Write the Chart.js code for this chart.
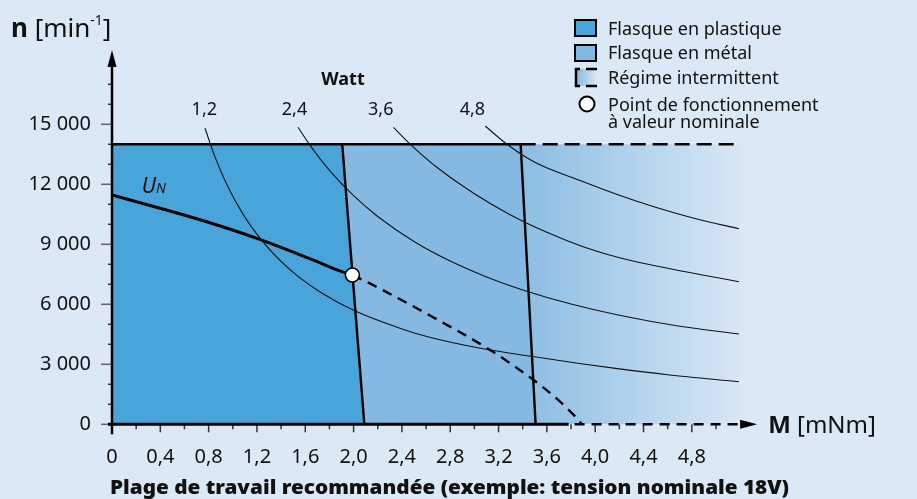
<!DOCTYPE html>
<html>
<head>
<meta charset="utf-8">
<script src="https://cdn.jsdelivr.net/npm/chart.js@4.4.1/dist/chart.umd.min.js"></script>
<style>
  html, body { margin: 0; padding: 0; background: #dbe8f5; }
  canvas { display: block; }
</style>
</head>
<body>
<canvas id="workChart" width="917" height="499"></canvas>
<script>
// values: [M in mNm, n in min-1]
let curve12 = [[0.77, 14800], [0.85, 13410], [0.95, 12000], [1.1, 10360], [1.3, 8770], [1.5, 7600],
  [1.75, 6515], [2.0, 5700], [2.4, 4770], [2.63, 4350], [3.05, 3800], [3.47, 3400], [3.87, 3040],
  [4.2, 2770], [4.6, 2480], [5.19, 2130]];
let curve24 = [[1.54, 14850], [1.65, 13860], [1.8, 12700], [2.0, 11430], [2.2, 10390], [2.5, 9140],
  [2.8, 8160], [3.1, 7370], [3.4, 6720], [3.8, 6015], [4.2, 5450], [4.7, 4900], [5.19, 4515]];
let curve36 = [[2.33, 14850], [2.47, 14000], [2.7, 12800], [3.0, 11530], [3.3, 10470], [3.6, 9600],
  [3.9, 8880], [4.2, 8330], [4.6, 7800], [4.9, 7450], [5.19, 7130]];
let curve48 = [[3.09, 14915], [3.27, 14000], [3.5, 13100], [3.87, 12200], [4.2, 11450], [4.5, 10850],
  [4.85, 10250], [5.19, 9780]];

let unSolid = [[0, 11465], [0.45, 10715], [0.81, 10080], [1.2, 9300], [1.7, 8130], [1.83, 7800], [1.99, 7465]];
let unDashed = [[1.99, 7465], [2.16, 6965], [2.65, 5380], [3.13, 3715], [3.49, 2215], [3.7, 1180],
  [3.85, 290], [3.89, 0]];
let nominalPoint = [[1.99, 7465]];

let plasticEdge = [[0, 14000], [1.906, 14000], [2.089, 0]];
let metalEdge = [[1.906, 14000], [3.383, 14000], [3.507, 0]];
let intermittentEdge = [[3.383, 14000], [5.2, 14000]];

let xTickLabels = ['0', '0,4', '0,8', '1,2', '1,6', '2,0', '2,4', '2,8', '3,2', '3,6', '4,0', '4,4', '4,8'];
let yTickLabels = ['0', '3 000', '6 000', '9 000', '12 000', '15 000'];
let wattLabels = ['1,2', '2,4', '3,6', '4,8'];
let legendLabels = ['Flasque en plastique', 'Flasque en métal', 'Régime intermittent', 'Point de fonctionnement', 'à valeur nominale'];

let bgColor = '#dbe8f5';
let plasticColor = '#49a4d9';
let metalColor = '#85b9e1';
let font = "'Noto Sans', sans-serif";

function pts(arr) {
    return arr.map(p => ({ x: p[0], y: p[1] }));
}

function curve(data) {
    return {
        data: pts(data),
        borderColor: '#111',
        borderWidth: 1.1,
        pointRadius: 0,
        fill: false,
        cubicInterpolationMode: 'monotone',
        order: 2
    };
}

let decor = {
    id: 'decor',
    beforeDraw(chart) {
        let c = chart.ctx;
        c.save();
        c.fillStyle = bgColor;
        c.fillRect(0, 0, chart.width, chart.height);
        c.restore();
    },
    afterDatasetsDraw(chart) {
        let c = chart.ctx;
        let xs = chart.scales.x;
        let ys = chart.scales.y;
        let x0 = xs.getPixelForValue(0);
        let y0 = ys.getPixelForValue(0);
        c.save();

        // ticks from the library's own tick lists
        c.lineWidth = 1.5;
        ys.ticks.forEach(t => {
            let y = ys.getPixelForValue(t.value);
            let major = t.label !== '';
            c.strokeStyle = major ? '#666' : '#333';
            c.beginPath();
            c.moveTo(x0 - (major ? 11 : 4), y);
            c.lineTo(x0, y);
            c.stroke();
        });
        xs.ticks.forEach(t => {
            let x = xs.getPixelForValue(t.value);
            let major = t.label !== '';
            c.strokeStyle = '#333';
            c.beginPath();
            c.moveTo(x, y0);
            c.lineTo(x, y0 + (major ? 8 : 5));
            c.stroke();
        });

        // y axis with arrow
        c.strokeStyle = '#000';
        c.fillStyle = '#000';
        c.lineWidth = 2.5;
        c.beginPath();
        c.moveTo(x0, y0 + 10);
        c.lineTo(x0, 62);
        c.stroke();
        c.beginPath();
        c.moveTo(x0, 50);
        c.lineTo(x0 - 4.5, 67);
        c.lineTo(x0 + 4.5, 67);
        c.closePath();
        c.fill();

        // x axis: solid, then dashed, arrow
        let solidEnd = xs.getPixelForValue(3.78);
        let dashEnd = xs.getPixelForValue(5.2);
        c.lineWidth = 3;
        c.beginPath();
        c.moveTo(x0 - 4, y0);
        c.lineTo(solidEnd, y0);
        c.stroke();
        c.lineWidth = 2.5;
        c.setLineDash([10, 7]);
        c.beginPath();
        c.moveTo(solidEnd + 6, y0);
        c.lineTo(dashEnd, y0);
        c.stroke();
        c.setLineDash([]);
        c.beginPath();
        c.moveTo(dashEnd + 17, y0);
        c.lineTo(dashEnd, y0 - 4.5);
        c.lineTo(dashEnd, y0 + 4.5);
        c.closePath();
        c.fill();

        // axis titles
        c.fillStyle = '#111';
        c.textBaseline = 'alphabetic';
        c.textAlign = 'left';
        let x = 11;
        c.font = 'bold 26px ' + font;
        c.fillText('n', x, 37);
        x += c.measureText('n ').width;
        c.font = '26px ' + font;
        c.fillText('[min', x, 37);
        x += c.measureText('[min').width;
        c.font = '14px ' + font;
        c.fillText('-1', x, 25);
        x += c.measureText('-1').width;
        c.font = '26px ' + font;
        c.fillText(']', x, 37);

        x = dashEnd + 28;
        c.font = 'bold 24px ' + font;
        c.fillText('M', x, 433);
        x += c.measureText('M ').width;
        c.font = '24px ' + font;
        c.fillText('[mNm]', x, 433);

        // watt labels above the curves
        c.textAlign = 'center';
        c.font = 'bold 18px ' + font;
        c.fillText('Watt', xs.getPixelForValue(1.912), ys.getPixelForValue(16965));
        c.font = '18px ' + font;
        [0.764, 1.511, 2.225, 2.984].forEach((lx, i) => {
            c.fillText(wattLabels[i], xs.getPixelForValue(lx), ys.getPixelForValue(15465));
        });

        // U_N
        c.textAlign = 'left';
        let ux = xs.getPixelForValue(0.246);
        let uy = ys.getPixelForValue(11550);
        c.font = 'italic 21px ' + font;
        c.fillText('U', ux, uy);
        let uw = c.measureText('U').width;
        c.font = 'italic 14px ' + font;
        c.fillText('N', ux + uw, uy);

        // bottom caption, heavy and stretched to the original width
        let caption = 'Plage de travail recommandée (exemple: tension nominale 18V)';
        c.font = "900 19px 'Noto Sans', sans-serif";
        let cw = c.measureText(caption).width;
        c.save();
        c.translate(449.5, 494);
        c.scale(679 / cw, 1);
        c.textAlign = 'center';
        c.fillText(caption, 0, 0);
        c.restore();

        // legend
        c.lineWidth = 2;
        c.strokeStyle = '#000';
        c.fillStyle = plasticColor;
        c.fillRect(575, 20, 21, 16);
        c.strokeRect(575, 20, 21, 16);
        c.fillStyle = metalColor;
        c.fillRect(575, 45, 21, 16);
        c.strokeRect(575, 45, 21, 16);
        let lg = c.createLinearGradient(576, 0, 597, 0);
        lg.addColorStop(0, metalColor);
        lg.addColorStop(1, bgColor);
        c.fillStyle = lg;
        c.fillRect(576, 69, 21, 17);
        c.lineWidth = 2.5;
        c.beginPath();
        c.moveTo(576, 68);
        c.lineTo(576, 87);
        c.moveTo(575, 69);
        c.lineTo(580, 69);
        c.moveTo(575, 86);
        c.lineTo(580, 86);
        c.moveTo(586, 69);
        c.lineTo(597, 69);
        c.moveTo(586, 86);
        c.lineTo(597, 86);
        c.stroke();
        c.lineWidth = 2;
        c.fillStyle = '#fff';
        c.beginPath();
        c.arc(587, 104, 7.5, 0, Math.PI * 2);
        c.fill();
        c.stroke();

        c.fillStyle = '#111';
        c.font = '18px ' + font;
        c.textAlign = 'left';
        [35, 59, 84, 111, 128].forEach((by, i) => c.fillText(legendLabels[i], 608, by));

        c.restore();
    }
};

let ctx = document.getElementById('workChart');

let workChart = new Chart(ctx, {
    type: 'line',
    data: {
        datasets: [
            {
                data: pts(nominalPoint),
                showLine: false,
                pointRadius: 7,
                pointBackgroundColor: '#fff',
                pointBorderColor: '#000',
                pointBorderWidth: 1.6,
                order: 0
            },
            {
                data: pts(unSolid),
                borderColor: '#000',
                borderWidth: 3,
                pointRadius: 0,
                cubicInterpolationMode: 'monotone',
                order: 1
            },
            {
                data: pts(unDashed),
                borderColor: '#000',
                borderWidth: 2.4,
                borderDash: [10, 7],
                pointRadius: 0,
                cubicInterpolationMode: 'monotone',
                order: 1
            },
            curve(curve12),
            curve(curve24),
            curve(curve36),
            curve(curve48),
            {
                data: pts(plasticEdge),
                borderColor: '#000',
                borderWidth: 2.4,
                backgroundColor: plasticColor,
                fill: 'origin',
                pointRadius: 0,
                order: 3
            },
            {
                data: pts(metalEdge),
                borderColor: '#000',
                borderWidth: 2.4,
                backgroundColor: metalColor,
                fill: 'origin',
                pointRadius: 0,
                order: 4
            },
            {
                data: pts(intermittentEdge),
                borderColor: '#000',
                borderWidth: 2.4,
                borderDash: [15, 7],
                backgroundColor: function (context) {
                    let chart = context.chart;
                    if (!chart.chartArea) return metalColor;
                    let g = chart.ctx.createLinearGradient(
                        chart.scales.x.getPixelForValue(3.383), 0,
                        chart.scales.x.getPixelForValue(5.2), 0);
                    g.addColorStop(0, '#8bbde3');
                    g.addColorStop(1, '#d8e7f5');
                    return g;
                },
                fill: 'origin',
                pointRadius: 0,
                order: 5
            }
        ]
    },
    options: {
        responsive: false,
        animation: false,
        devicePixelRatio: 1,
        layout: { padding: { top: 64.3, right: 152.7, left: 0, bottom: 0 } },
        plugins: {
            legend: { display: false },
            tooltip: { enabled: false },
            title: { display: false }
        },
        scales: {
            x: {
                type: 'linear',
                min: 0,
                max: 5.4,
                border: { display: false },
                grid: { display: false, drawTicks: false },
                afterFit: s => { s.height = 74.7; },
                afterBuildTicks: s => { s.ticks = s.ticks.filter(t => t.value <= 5.01); },
                ticks: {
                    stepSize: 0.2,
                    maxTicksLimit: 60,
                    autoSkip: false,
                    maxRotation: 0,
                    minRotation: 0,
                    padding: 21,
                    color: '#111',
                    font: { family: font, size: 20 },
                    callback: v => {
                        let r = Math.round(v * 10);
                        return r % 4 === 0 && xTickLabels[r / 4] !== undefined ? xTickLabels[r / 4] : '';
                    }
                }
            },
            y: {
                min: 0,
                max: 18000,
                border: { display: false },
                grid: { display: false, drawTicks: false },
                afterFit: s => { s.width = 112; },
                afterBuildTicks: s => { s.ticks = s.ticks.filter(t => t.value <= 17000); },
                ticks: {
                    stepSize: 1000,
                    maxTicksLimit: 60,
                    autoSkip: false,
                    padding: 21,
                    color: '#111',
                    font: { family: font, size: 20 },
                    callback: v => {
                        let r = Math.round(v);
                        return r % 3000 === 0 && yTickLabels[r / 3000] !== undefined ? yTickLabels[r / 3000] : '';
                    }
                }
            }
        }
    },
    plugins: [decor]
});
</script>
</body>
</html>
